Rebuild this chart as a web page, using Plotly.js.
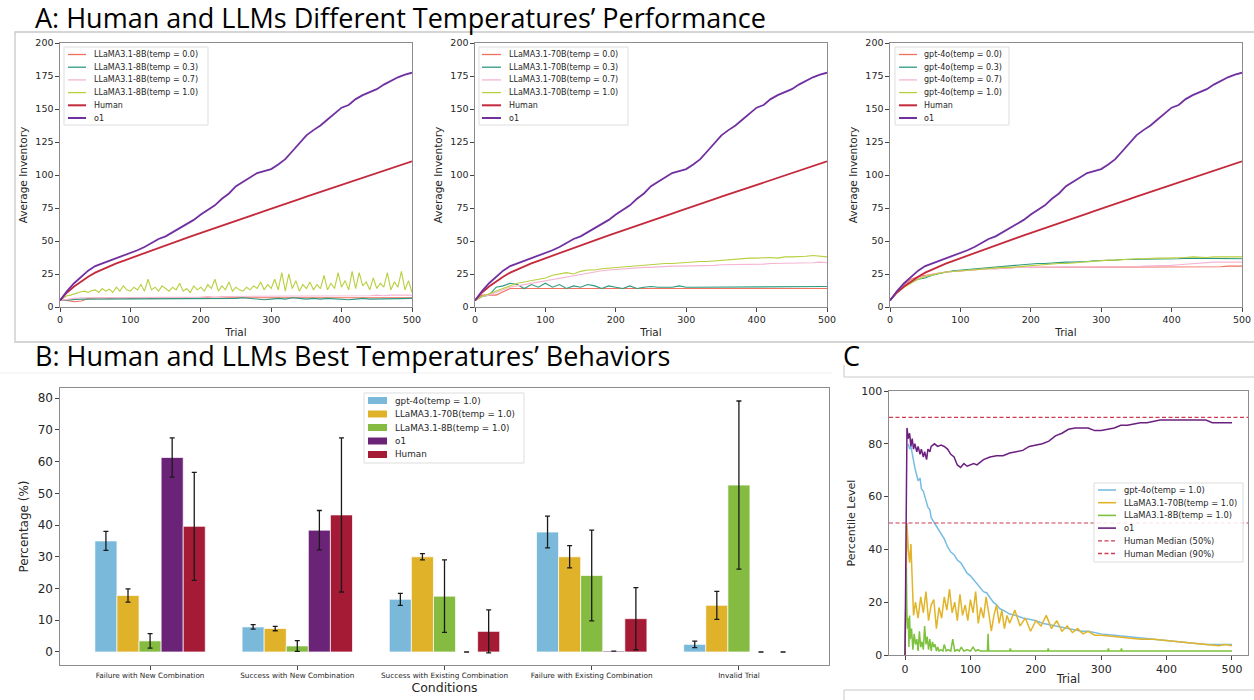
<!DOCTYPE html>
<html><head><meta charset="utf-8">
<script src="https://cdn.plot.ly/plotly-3.0.1.min.js"></script>
<style>html,body{margin:0;padding:0;background:#fff;}#chart{width:1254px;height:700px;}</style>
</head><body><div id="chart"></div>
<script>
// ---------------- DATA ----------------
const trialsA = [0,10,20,30,40,50,60,70,80,90,100,110,120,130,140,150,160,170,180,190,200,210,220,230,240,250,260,270,280,290,300,310,320,330,340,350,360,370,380,390,400,410,420,430,440,450,460,470,480,490,500];
const trialsA5 = [0,5,10,15,20,25,30,35,40,45,50,55,60,65,70,75,80,85,90,95,100,105,110,115,120,125,130,135,140,145,150,155,160,165,170,175,180,185,190,195,200,205,210,215,220,225,230,235,240,245,250,255,260,265,270,275,280,285,290,295,300,305,310,315,320,325,330,335,340,345,350,355,360,365,370,375,380,385,390,395,400,405,410,415,420,425,430,435,440,445,450,455,460,465,470,475,480,485,490,495,500];

const humanInv = [5,11,15.5,19.5,23,26,28.5,31,33,35,
  37,39,41,42.8,44.8,46.8,48.7,50.5,52.4,54.3,
  56.2,58,59.9,61.7,63.5,65.3,67.2,69,70.8,72.6,
  74.3,76.2,78,79.8,81.7,83.6,85.4,87.2,89,90.9,
  92.7,94.6,96.4,98,99.8,101.5,103.3,105,106.8,108.6,
  110.3];
const o1Inv = [5,12,18,23,27.5,31,33,35,36.5,38.5,
  40.5,43,45.5,48.5,51.5,53.5,56.5,59.5,63,66,
  70,73.5,77,82,86,91.5,95,98.5,101.5,103,
  104.5,108,112,118,124,130,134,137.5,142,146.5,
  151,153,157.5,160.5,163,165,168.5,171.5,174,176,
  177.5];

// LLaMA3.1-8B
const l8_t00 = [5,5,4,4.5,6.5,7,7,6.5,7,7,
  6.5,7,7,6.5,7,7,6.5,7,7,6.5,
  7,7,6.5,7,7,7,7,6.5,7,7,
  7,7,6.5,7,7,7,7,7,6.5,7,
  7,7,7,7,7,7,7,7,7,7,
  7];
const l8_t03 = [5,5.5,5.5,6,6,6,6,6,6,6,
  6,6,6,6,6,6,6,6,6,6,
  6,6,6,6,6,6.5,7,6.5,6,5.5,
  6,6.5,6,7,6.5,6,6.5,6,6.5,6,
  6,5.5,6,6.5,6,6,6.5,6,6,6,
  6.5];
const l8_t07 = [5,6,6.5,7,7,7,7,7.5,7,7.5,
  7,7.5,7,7.5,7,7.5,7.5,7.5,7.5,7.5,
  7.5,8,7.5,8,8,8,8.5,8,8,8.5,
  8.5,8,8.5,8.5,8,8.5,8.5,8.5,8,8.5,
  8.5,8.5,8.5,8.5,8.5,9,8.5,9,9,9,
  9];
const l8_t10 = [5,7,8.5,9,10,11,11.5,12,11,12.5,
  13,11,14,12,13.5,11,15,12,16,13,
  12,15,13,17,12,21,13,15,12,16,
  14,12,15,13,18,12,14,11,16,13,
  15,12,17,14,21,12,16,13,19,12,
  15,13,12,15,13,16,14,19,13,17,
  14,21,13,26,12,25,14,20,12,17,
  14,19,13,17,14,24,13,18,14,26,
  15,20,13,27,14,26,16,19,13,22,
  14,18,15,26,13,19,15,27,13,20,
  11];

// LLaMA3.1-70B
const l70_t00 = [5,9,9,9,11.5,14,14,14,14,14,
  14,14,14,14,14,14,14,14,14,14,
  14,14,14,14,14,14,14,14,14,14,
  14,14,14,14,14,14,14,14,14,14,
  14,14,14,14,14,14,14,14,14,14,
  14];
const l70_t03 = [5,8,9,15,16,18,17,14,17,15,
  18,15,17,14,16,15,17,16,14,16,
  15,14,16,14,15,15.5,15,15,15,16,
  15,15,15,15,15,15,15,15,15,15,
  15,15,15.5,15,15,15,15,15,15.5,15.5,
  15.5];
const l70_t07 = [5,8,9,11,13,15,16,17,18,19,
  20,21,22,23,23.5,25,26,27,27.5,28,
  28.5,29,29,29.5,30,30,30.5,31,31,31,
  31,31,31.5,31.5,31.5,32,32,32,32,32,
  32.5,32.5,33,33,33,33,33,33.5,33.5,34,
  33.5];
const l70_t10 = [5,8,10,12,14,16,18,19,20,21,
  22,24,25,26,25,27,28,28,29,29.5,
  30,30.5,31,31,32,32,32.5,33,33,33.5,
  34,34,34.5,34.5,35,35,35.5,36,36.5,37,
  37,37.5,37.5,37,38,38,38,38.5,39,38.5,
  38];

// gpt-4o
const g_t00 = [5,12,17,21,23,24,25,26,26.5,27,
  27.5,28,28.5,28.5,29,29,29.5,29.5,30,30,
  30,30,30,30,30,30,30,30,30,30,
  30,30,30,30,30,30,30,30,30,30,
  30,30,30,30,30,30.5,30.5,30.5,31,31,
  31];
const g_t03 = [5,11,16,19,21,22,24,25.5,26.5,27.5,
  28,28.5,29,29.5,30,30.5,31,31.5,32,32,
  32.5,33,33,33.5,33.5,34,34,34,34.5,35,
  35,35.5,35.5,36,36,36,36,36.5,36.5,36.5,
  36.5,36.5,37,37,37,37,36.5,36.5,36.5,36.5,
  36.5];
const g_t07 = [5,12,16,19,22,23.5,25,26,26.5,27,
  27.5,28,28,28.5,29,29,29.5,29.5,30,30,
  30,30,30,30,30,30,30,30,30,30,
  30.5,30.5,30.5,30.5,30.5,30.5,31,31,31,31,
  31.5,32,32.5,33,33.5,34,34,34,34,34,
  34];
const g_t10 = [5,11,15,18,21,23,24.5,25.5,26.5,27,
  27.5,28,28.5,29,29,29.5,30,30,30.5,31,
  31,31.5,32,32.5,33,33,33.5,34,34,34.5,
  35,35.5,35.5,36,36,36.5,36.5,37,37,37,
  37,37.5,37.5,38,37.5,37.5,38,38,38,38,
  38];

const tempLabels = ['temp = 0.0','temp = 0.3','temp = 0.7','temp = 1.0'];
const panelModels = ['LLaMA3.1-8B','LLaMA3.1-70B','gpt-4o'];

// Panel B
const conditions = ['Failure with New Combination','Success with New Combination','Success with Existing Combination','Failure with Existing Combination','Invalid Trial'];
const barNames = ['gpt-4o(temp = 1.0)','LLaMA3.1-70B(temp = 1.0)','LLaMA3.1-8B(temp = 1.0)','o1','Human'];
const gpt4oPct = [35,7.9,16.6,37.8,2.4];      const gpt4oErr = [3,0.7,1.9,5,1];
const llama70Pct = [17.8,7.4,30,30,14.7];     const llama70Err = [2.1,0.7,1,3.5,4.4];
const llama8Pct = [3.5,1.9,17.6,24.1,52.6];   const llama8Err = [2.3,1.7,11.4,14.3,26.5];
const o1Pct = [61.3,38.4,0,0.3,0];            const o1Err = [6.2,6.2,0,0,0];
const humanPct = [39.6,43.2,6.5,10.5,0];      const humanErr = [17,24.3,6.8,9.8,0];

// Panel C
const o1C_t = [0,3,5,7,9,11,13,15,18,20,23,25,28,30,33,35,38,40,45,50,55,60,65,70,75,80,85,90,95,100,105,110,115,120,130,140,150,160,170,180,190,200,210,220,230,240,250,260,270,280,290,300,310,320,330,340,350,360,370,380,390,400,420,440,460,470,480,490,500];
const o1C_v = [0,86,82,84,79,82,78,80,77,79,76,78,75,77,74,78,77,79,80,79,79.5,79,78,76,75,72,71,72.5,71.5,72,72.5,72,73,74,75,75.5,75.5,76.5,77,77.5,79,79.5,80,81,83,84,85.5,86,86,86,85,85,85.5,86,87,87,87.5,88,88,88.5,89,89,89,89,89,88,88,88,88];
const gptC_t = [5,7,9,11,13,15,18,20,23,25,28,30,33,35,38,40,45,50,55,60,65,70,75,80,85,90,95,100,105,110,115,120,125,130,135,140,145,150,160,170,180,190,200,210,220,230,240,250,260,270,280,290,300,320,340,360,380,400,420,440,460,480,500];
const gptC_v = [80,78,79,76,74,71,68,66,67,63,62,60,58,56,55,52,50,48,46,44,41,39,38,36,35,33,31,30,28.5,27,25.5,24,23.5,21.5,20,19,17.5,17,15.5,15,14,13.5,13,12,11.5,11,10.5,10,9.5,9,9,8.5,8,7.5,7,6.5,6,5.5,5,4.5,4,4,4];
const l70C_t = [0,3,5,7,9,11,13,16,20,24,28,32,36,40,44,48,52,56,60,64,68,72,76,80,84,88,92,96,100,104,108,112,116,120,124,128,132,136,140,144,148,152,156,160,168,176,184,192,200,208,216,224,232,240,248,256,264,272,280,290,300,320,340,360,380,400,420,440,460,480,490,500];
const l70C_v = [0,50,40,35,42,25,15,20,14,22,16,24,13,19,21,10,18,14,22,17,25,16,20,13,23,15,19,13,21,16,24,12,18,14,22,16,9,15,19,12,17,10,15,12,17,11,14,9,13,11,15,10,13,9,11,8.5,10,8,9,7.5,7.5,7,6.5,6,6,5.5,5,4.5,4,3.5,4,3.5];
const l8C_t = [0,2,3,4,5,6,7,8,10,12,14,16,18,20,22,24,26,28,30,32,34,36,38,40,42,44,46,48,50,52,55,58,60,63,66,70,73,76,80,83,86,90,95,100,104,108,112,115,120,126,127,128,130,160,161,162,218,219,220,310,311,312,330,331,332,500];
const l8C_v = [0,33,15,10,14,3,15,6,10,2,8,4,6,1.5,9,3,5,2,11,4,7,2,6,1.5,5,3,4,1.5,3,1.5,2,1.5,4,1.5,2,1.5,6,1.5,2,1.5,3,1.5,2,1.5,3,1.5,2,1.5,1.5,1.5,8,1.5,1.5,1.5,2.5,1.5,1.5,2.5,1.5,1.5,2.5,1.5,1.5,2.5,1.5,1.5];
const medianLevels = [50, 90];
const medianNames = ['Human Median (50%)','Human Median (90%)'];

// ---------------- STYLE ----------------
const W = 1254, H = 700;
const fx = p => p / W;
const fy = p => 1 - p / H;
const DJ = 'DejaVu Sans, sans-serif';
const colT = ['#f0705f','#2e9982','#f5b5d2','#b8cf3e'];
const colHumanA = '#c42a3c', colO1A = '#7030a0';
const colB = ['#7ab9da','#dfb22a','#85bb41','#6b2377','#a51b36'];
const colC = ['#78bde3','#e2b42a','#7dc23e','#6b1f7f'];
const colMed = '#cf3a55';

function axis(extra){
  return Object.assign({showline:true, mirror:true, linecolor:'#8c8c8c', linewidth:1.1,
    ticks:'outside', ticklen:3.5, tickwidth:1, tickcolor:'#444', showgrid:false, zeroline:false,
    fixedrange:true, automargin:false}, extra);
}

const traces = [];
const panelData = [
  [l8_t00, l8_t03, l8_t07, l8_t10],
  [l70_t00, l70_t03, l70_t07, l70_t10],
  [g_t00, g_t03, g_t07, g_t10]
];
panelData.forEach((series, p) => {
  const xa = p === 0 ? 'x' : 'x' + (p + 1);
  const ya = p === 0 ? 'y' : 'y' + (p + 1);
  series.forEach((vals, i) => {
    traces.push({type:'scatter', mode:'lines', x: vals.length === trialsA5.length ? trialsA5 : trialsA, y: vals,
      xaxis: xa, yaxis: ya, name: panelModels[p] + '(' + tempLabels[i] + ')',
      line:{color: colT[i], width: 1.1}, showlegend:false, hoverinfo:'skip'});
  });
  traces.push({type:'scatter', mode:'lines', x: trialsA, y: humanInv, xaxis: xa, yaxis: ya, name:'Human',
    line:{color: colHumanA, width: 1.8}, showlegend:false, hoverinfo:'skip'});
  traces.push({type:'scatter', mode:'lines', x: trialsA, y: o1Inv, xaxis: xa, yaxis: ya, name:'o1',
    line:{color: colO1A, width: 1.8}, showlegend:false, hoverinfo:'skip'});
});

const barVals = [gpt4oPct, llama70Pct, llama8Pct, o1Pct, humanPct];
const barErrs = [gpt4oErr, llama70Err, llama8Err, o1Err, humanErr];
barVals.forEach((v, i) => {
  traces.push({type:'bar', x: conditions, y: v, xaxis:'x4', yaxis:'y4', name: barNames[i],
    marker:{color: colB[i], line:{color:'rgba(255,255,255,0.7)', width:1}},
    error_y:{type:'data', array: barErrs[i], visible:true, color:'#1a1a1a', thickness:1.3, width:2.5},
    showlegend:false, hoverinfo:'skip'});
});

const cSeries = [[gptC_t, gptC_v],[l70C_t, l70C_v],[l8C_t, l8C_v],[o1C_t, o1C_v]];
const cNames = ['gpt-4o(temp = 1.0)','LLaMA3.1-70B(temp = 1.0)','LLaMA3.1-8B(temp = 1.0)','o1'];
cSeries.forEach((s, i) => {
  traces.push({type:'scatter', mode:'lines', x: s[0], y: s[1], xaxis:'x5', yaxis:'y5', name: cNames[i],
    line:{color: colC[i], width: 1.5}, showlegend:false, hoverinfo:'skip'});
});

// ---------------- LAYOUT ----------------
const shapes = [];
const annotations = [];

// frames
shapes.push({type:'rect', xref:'paper', yref:'paper', x0:fx(15), x1:fx(1262), y0:fy(342), y1:fy(32), line:{color:'#c8c8c8', width:1.3}, fillcolor:'rgba(0,0,0,0)', layer:'below'});
shapes.push({type:'line', xref:'paper', yref:'paper', x0:fx(0), x1:fx(832), y0:fy(373), y1:fy(373), line:{color:'#eeeeee', width:1}, layer:'below'});
shapes.push({type:'line', xref:'paper', yref:'paper', x0:fx(844), x1:fx(1254), y0:fy(377), y1:fy(377), line:{color:'#c8c8c8', width:1}, layer:'below'});
shapes.push({type:'line', xref:'paper', yref:'paper', x0:fx(844), x1:fx(844), y0:fy(365), y1:fy(377), line:{color:'#c8c8c8', width:1}, layer:'below'});
shapes.push({type:'line', xref:'paper', yref:'paper', x0:fx(844), x1:fx(1254), y0:fy(690), y1:fy(690), line:{color:'#c8c8c8', width:1}, layer:'below'});
shapes.push({type:'line', xref:'paper', yref:'paper', x0:fx(844), x1:fx(844), y0:fy(690), y1:fy(700), line:{color:'#c8c8c8', width:1}, layer:'below'});

// median lines in panel C
medianLevels.forEach(v => {
  shapes.push({type:'line', xref:'x5 domain', yref:'y5', x0:0, x1:1, y0:v, y1:v, line:{color: colMed, width:1.2, dash:'4px,2.5px'}});
});

// panel titles
const titleFont = {family:'Open Sans, Lato, sans-serif', size:27, color:'#000'};
annotations.push({text:'A: Human and LLMs Different Temperatures’ Performance', xref:'paper', yref:'paper', x:fx(33), y:fy(18), xanchor:'left', yanchor:'middle', showarrow:false, font:titleFont});
annotations.push({text:'B: Human and LLMs Best Temperatures’ Behaviors', xref:'paper', yref:'paper', x:fx(33), y:fy(355), xanchor:'left', yanchor:'middle', showarrow:false, font:titleFont});
annotations.push({text:'C', xref:'paper', yref:'paper', x:fx(841), y:fy(355), xanchor:'left', yanchor:'middle', showarrow:false, font:titleFont});

// custom legends
function legend(box, firstY, dy, lx0, lx1, tx, fs, items){
  shapes.push({type:'rect', xref:'paper', yref:'paper', x0:fx(box[0]), x1:fx(box[1]), y0:fy(box[3]), y1:fy(box[2]),
    fillcolor:'rgba(255,255,255,0.85)', line:{color:'#dddddd', width:1}});
  items.forEach((it, i) => {
    const yy = firstY + dy * i;
    if (it.kind === 'bar') {
      shapes.push({type:'rect', xref:'paper', yref:'paper', x0:fx(lx0), x1:fx(lx1), y0:fy(yy + 3.5), y1:fy(yy - 3.5), fillcolor: it.color, line:{width:0}});
    } else {
      shapes.push({type:'line', xref:'paper', yref:'paper', x0:fx(lx0), x1:fx(lx1), y0:fy(yy), y1:fy(yy), line:{color: it.color, width: it.width, dash: it.dash || 'solid'}});
    }
    annotations.push({text: it.name, xref:'paper', yref:'paper', x:fx(tx), y:fy(yy), xanchor:'left', yanchor:'middle', showarrow:false, font:{family:DJ, size:fs, color:'#262626'}});
  });
}
const legBoxes = [[64,208,47,125],[479,628,47,125],[895,1009,47,125]];
const legLine = [[68,86,92],[482,501,507],[899,917,922]];
panelModels.forEach((m, p) => {
  const items = tempLabels.map((t, i) => ({name: m + '(' + t + ')', color: colT[i], width: 1.3}));
  items.push({name:'Human', color: colHumanA, width: 2});
  items.push({name:'o1', color: colO1A, width: 2});
  legend(legBoxes[p], 54.5, 12.7, legLine[p][0], legLine[p][1], legLine[p][2], 8, items);
});
legend([364,524,393,463], 400.5, 13.5, 368, 387, 393, 8.8, barNames.map((n, i) => ({name:n, color: colB[i], kind:'bar'})));
const cItems = cNames.map((n, i) => ({name:n, color: colC[i], width: 1.6}));
medianNames.forEach(n => cItems.push({name:n, color: colMed, width: 1.3, dash:'4px,2.5px'}));
legend([1094,1243,483,562], 490, 12.7, 1098, 1116, 1122, 8.3, cItems);

const tfA = {family:DJ, size:9.5, color:'#262626'};
const ttA = {family:DJ, size:10.5, color:'#262626'};
const xTicksA = [0,100,200,300,400,500];
const yTicksA = [0,25,50,75,100,125,150,175,200];
const xA = (d) => axis({domain:d, range:[0,500], tickvals:xTicksA, tickfont:tfA, title:{text:'Trial', font:ttA, standoff:4}});
const yA = (d) => axis({domain:[fy(307), fy(43)], range:[0,200], tickvals:yTicksA, tickfont:tfA, title:{text:'Average Inventory', font:ttA, standoff:5}});

const layout = {
  width: W, height: H, margin:{l:0, r:0, t:0, b:0, pad:0},
  paper_bgcolor:'#ffffff', plot_bgcolor:'#ffffff', showlegend:false,
  font:{family:DJ, color:'#262626'},
  barmode:'group', bargap:0.25, bargroupgap:0,
  xaxis: Object.assign(xA([fx(60), fx(412)]), {anchor:'y'}),
  yaxis: Object.assign(yA(), {anchor:'x'}),
  xaxis2: Object.assign(xA([fx(475), fx(827)]), {anchor:'y2'}),
  yaxis2: Object.assign(yA(), {anchor:'x2'}),
  xaxis3: Object.assign(xA([fx(890), fx(1242)]), {anchor:'y3'}),
  yaxis3: Object.assign(yA(), {anchor:'x3'}),
  xaxis4: axis({domain:[fx(60), fx(829)], anchor:'y4', type:'category', range:[-0.612, 4.612],
    tickfont:{family:DJ, size:7.3, color:'#262626'}, title:{text:'Conditions', font:{family:DJ, size:12.5, color:'#262626'}, standoff:0}}),
  yaxis4: axis({domain:[fy(665), fy(388)], anchor:'x4', range:[-4.1, 83.2], tickvals:[0,10,20,30,40,50,60,70,80],
    tickfont:{family:DJ, size:12, color:'#262626'}, title:{text:'Percentage (%)', font:{family:DJ, size:12, color:'#262626'}, standoff:6}}),
  xaxis5: axis({domain:[fx(889), fx(1248)], anchor:'y5', range:[-24.5, 524.5], tickvals:xTicksA,
    tickfont:{family:DJ, size:11, color:'#262626'}, title:{text:'Trial', font:{family:DJ, size:11.5, color:'#262626'}, standoff:0}}),
  yaxis5: axis({domain:[fy(655), fy(391)], anchor:'x5', range:[0, 100], tickvals:[0,20,40,60,80,100],
    tickfont:{family:DJ, size:11, color:'#262626'}, title:{text:'Percentile Level', font:{family:DJ, size:11, color:'#262626'}, standoff:3}}),
  shapes: shapes,
  annotations: annotations
};

Plotly.newPlot('chart', traces, layout, {displayModeBar:false, staticPlot:true});
</script></body></html>
